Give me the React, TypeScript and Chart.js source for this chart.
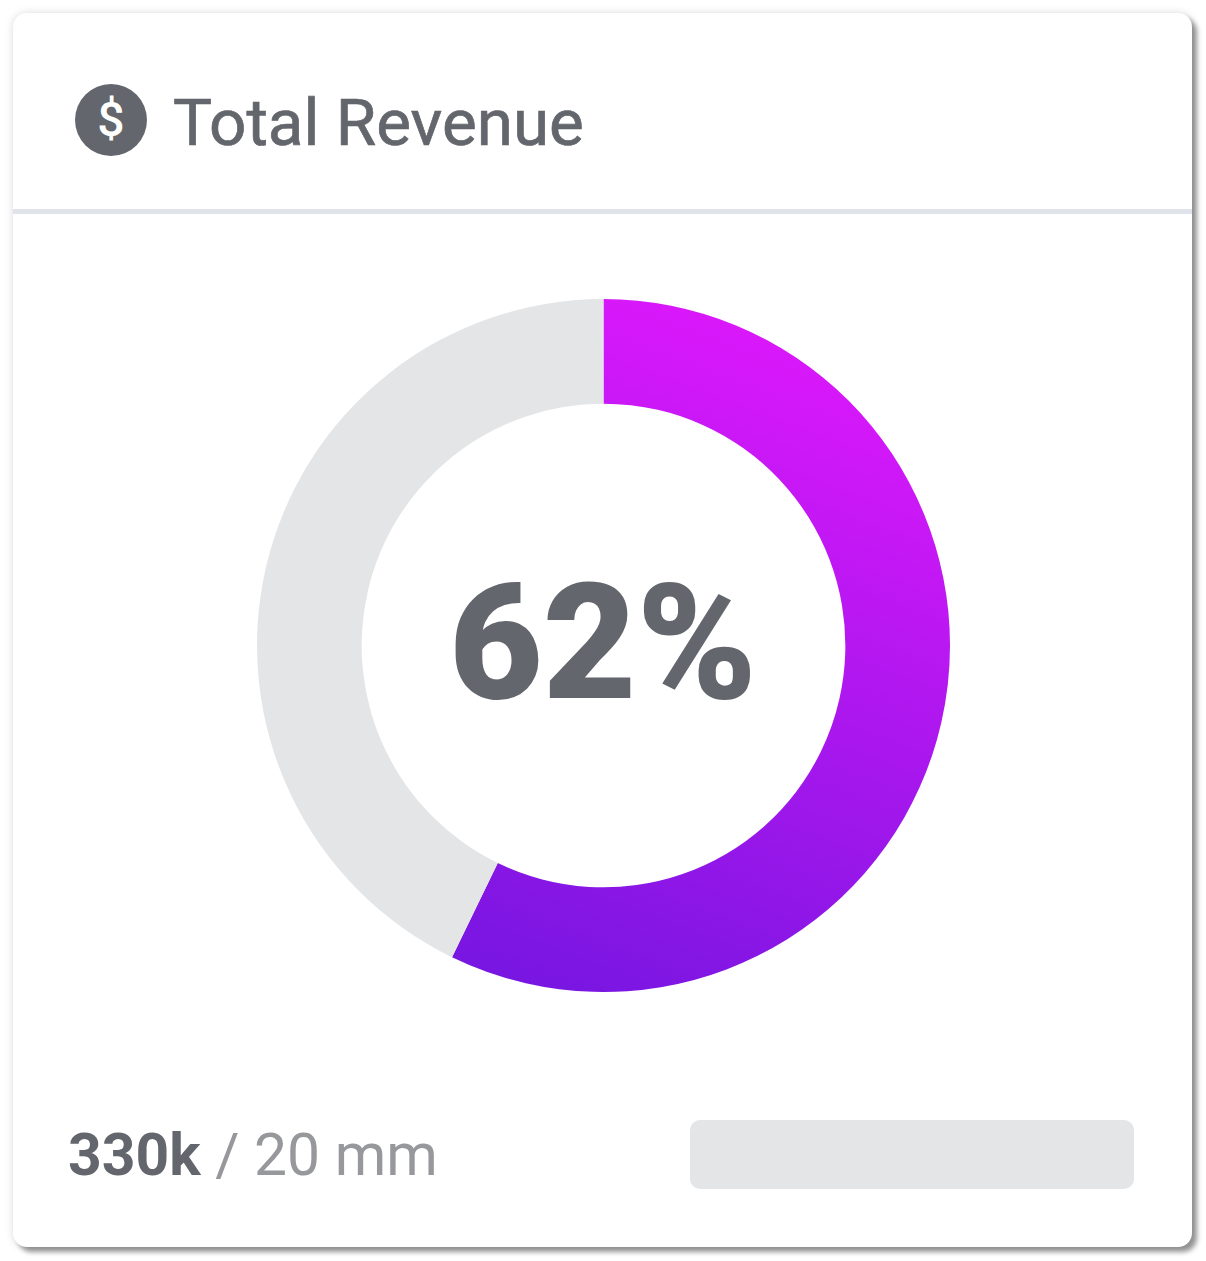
import React, { useEffect, useRef } from "react";
import { Chart, registerables } from "chart.js";

Chart.register(...registerables);

const categories = ["Revenue", "Remaining"];
const seriesValues = [57.2, 42.8];
const title = "Total Revenue";
const centerLabel = "62%";
const footerStrong = "330k";
const footerRest = " / 20 mm";

const GREY = "#63666c";

const abs = (left: number, top: number, extra: React.CSSProperties = {}): React.CSSProperties => ({
  position: "absolute",
  left,
  top,
  ...extra,
});

export default function App() {
  const ref = useRef<HTMLCanvasElement>(null);
  useEffect(() => {
    document.body.style.margin = "0";
    const chart = new Chart(ref.current!, {
      type: "doughnut",
      data: {
        labels: categories,
        datasets: [
          {
            data: seriesValues,
            borderWidth: 0,
            backgroundColor: (c: any) => {
              if (c.dataIndex === 1) return "#e4e5e7";
              const g = c.chart.ctx.createLinearGradient(480, 0, 220, 692);
              g.addColorStop(0, "#dd18fb");
              g.addColorStop(1, "#7516e0");
              return g;
            },
          },
        ],
      },
      options: {
        animation: false,
        responsive: false,
        cutout: "69.8%",
        layout: { padding: 0 },
        plugins: { legend: { display: false }, tooltip: { enabled: false } },
      },
    });
    return () => chart.destroy();
  }, []);

  return (
    <div style={{ position: "relative", width: 1206, height: 1261, overflow: "hidden", background: "#fff", fontFamily: "Roboto, sans-serif" }}>
      <div
        style={abs(13, 13, {
          width: 1179,
          height: 1234,
          borderRadius: 14,
          background: "#fff",
          boxShadow: "5px 5px 5px rgba(0,0,0,0.4), 0 0 8px rgba(0,0,0,0.14)",
        })}
      />
      <div style={abs(75, 84, { width: 72, height: 72, borderRadius: "50%", background: GREY })} />
      <div style={abs(75, 84, { width: 72, height: 72, lineHeight: "72px", textAlign: "center", color: "#fff", fontSize: 48, fontWeight: 500 })}>$</div>
      <div style={abs(173, 84, { fontSize: 65.6, lineHeight: "78px", color: GREY, whiteSpace: "nowrap", WebkitTextStroke: "0.7px #63666c" })}>{title}</div>
      <div style={abs(13, 209, { width: 1179, height: 5, background: "#e1e3eb" })} />
      <canvas ref={ref} width={693} height={693} style={abs(257, 299, { width: 693, height: 693 })} />
      <div style={abs(257, 548, { width: 692, textAlign: "center", fontSize: 162, lineHeight: "190px", fontWeight: 900, color: GREY })}>{centerLabel}</div>
      <div style={abs(68, 1120, { fontSize: 58.8, lineHeight: "70px", color: "#97989b", whiteSpace: "pre" })}>
        <span style={{ fontWeight: 700, color: GREY }}>{footerStrong}</span>
        {footerRest}
      </div>
      <div style={abs(690, 1120, { width: 444, height: 69, borderRadius: 10, background: "#e4e5e7" })} />
    </div>
  );
}
